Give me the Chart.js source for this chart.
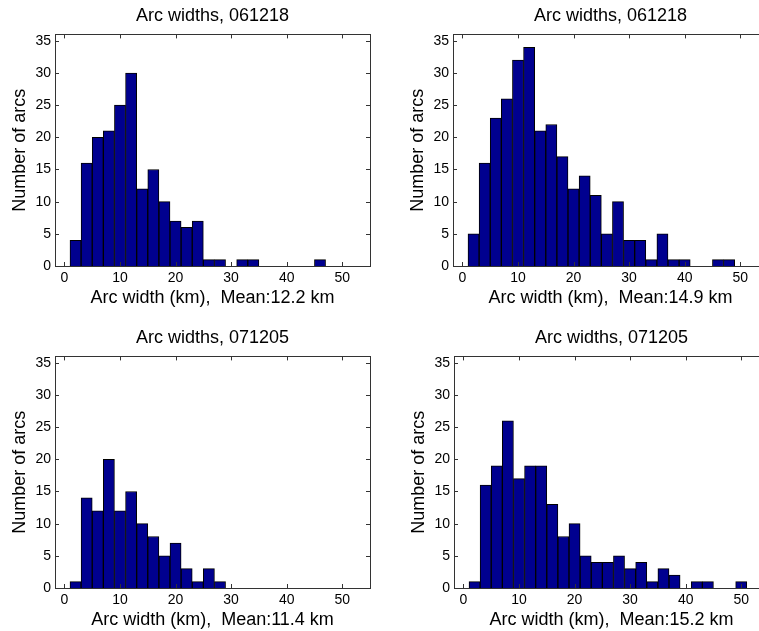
<!DOCTYPE html>
<html>
<head>
<meta charset="utf-8">
<script src="https://cdn.jsdelivr.net/npm/chart.js@4/dist/chart.umd.min.js"></script>
<style>
  html, body { margin: 0; padding: 0; background: #fff; overflow: hidden; }
  #wrap { position: relative; width: 759px; height: 631px; overflow: hidden; }
  canvas { position: absolute; }
</style>
</head>
<body>
<div id="wrap">
  <canvas id="hist1" width="400" height="315" style="left:0px;top:0px;width:400px;height:315px"></canvas>
  <canvas id="hist2" width="400" height="315" style="left:398px;top:0px;width:400px;height:315px"></canvas>
  <canvas id="hist3" width="400" height="315" style="left:0px;top:322px;width:400px;height:315px"></canvas>
  <canvas id="hist4" width="400" height="315" style="left:399px;top:322px;width:400px;height:315px"></canvas>
</div>
<script>
// bin centers (2 km bins)
const binCenters = [2, 4, 6, 8, 10, 12, 14, 16, 18, 20, 22, 24, 26, 28, 30, 32, 34, 36, 38, 40, 42, 44, 46, 48, 50];

// counts per bin, one array per panel
const counts1 = [4, 16, 20, 21, 25, 30, 12, 15, 10, 7, 6, 7, 1, 1, 0, 1, 1, 0, 0, 0, 0, 0, 1];
const counts2 = [5, 16, 23, 26, 32, 34, 21, 22, 17, 12, 14, 11, 5, 10, 4, 4, 1, 5, 1, 1, 0, 0, 1, 1];
const counts3 = [1, 14, 12, 20, 12, 15, 10, 8, 5, 7, 3, 1, 3, 1];
const counts4 = [1, 16, 19, 26, 17, 19, 19, 13, 8, 10, 5, 4, 4, 5, 3, 4, 1, 3, 2, 0, 1, 1, 0, 0, 1];

// titles and labels
const titles = ["Arc widths, 061218", "Arc widths, 061218", "Arc widths, 071205", "Arc widths, 071205"];
const xLabels = [
  "Arc width (km),  Mean:12.2 km",
  "Arc width (km),  Mean:14.9 km",
  "Arc width (km),  Mean:11.4 km",
  "Arc width (km),  Mean:15.2 km"
];
const yLabel = "Number of arcs";

// tick labels
const xTicks = [0, 10, 20, 30, 40, 50];
const yTicks = [0, 5, 10, 15, 20, 25, 30, 35];

const FONT = "'Liberation Sans', Arial, Helvetica, sans-serif";

// matlab style box with inward ticks, title centred over the axes
const boxTicks = {
  id: "boxTicks",
  afterDraw(chart, args, opts) {
    const { ctx, chartArea: a, scales: { x, y } } = chart;
    ctx.save();
    ctx.strokeStyle = "#333";
    ctx.lineWidth = 1;
    ctx.beginPath();
    x.ticks.forEach(t => {
      const px = Math.round(x.getPixelForValue(t.value)) + 0.5;
      ctx.moveTo(px, a.bottom); ctx.lineTo(px, a.bottom - 4);
      ctx.moveTo(px, a.top); ctx.lineTo(px, a.top + 4);
    });
    y.ticks.forEach(t => {
      const py = Math.round(y.getPixelForValue(t.value)) + 0.5;
      ctx.moveTo(a.left, py); ctx.lineTo(a.left + 4, py);
      ctx.moveTo(a.right, py); ctx.lineTo(a.right - 4, py);
    });
    ctx.stroke();
    ctx.strokeRect(Math.round(a.left) + 0.5, Math.round(a.top) + 0.5,
      Math.round(a.right - a.left), Math.round(a.bottom - a.top));

    // title
    ctx.fillStyle = "#000";
    ctx.font = "18px " + FONT;
    ctx.textAlign = "center";
    ctx.textBaseline = "middle";
    ctx.fillText(opts.text, (a.left + a.right) / 2, 16);
    ctx.restore();
  }
};

function drawHistogram(canvasId, counts, title, xLabel) {
  const ctx = document.getElementById(canvasId).getContext("2d");
  const points = counts.map((c, i) => ({ x: binCenters[i], y: c }));
  return new Chart(ctx, {
    type: "bar",
    data: {
      datasets: [{
        data: points,
        backgroundColor: "#00008F",
        borderColor: "#000000",
        borderWidth: 1,
        barPercentage: 1,
        categoryPercentage: 1
      }]
    },
    options: {
      responsive: false,
      animation: false,
      devicePixelRatio: 1,
      layout: { padding: { left: 0, right: 30, top: 34.4, bottom: 0 } },
      plugins: {
        legend: { display: false },
        tooltip: { enabled: false },
        title: { display: false },
        boxTicks: { text: title }
      },
      scales: {
        x: {
          type: "linear",
          offset: false,
          min: -1.7,
          max: 55,
          grid: { display: false, drawTicks: false },
          border: { display: false },
          afterBuildTicks: s => { s.ticks = xTicks.map(v => ({ value: v })); },
          afterFit: s => { s.height = 49; },
          ticks: { color: "#000", padding: 4, maxRotation: 0, font: { family: FONT, size: 14 } },
          title: {
            display: true,
            text: xLabel,
            color: "#000",
            font: { family: FONT, size: 18 },
            padding: { top: 0, bottom: 6.2 }
          }
        },
        y: {
          min: 0,
          max: 36,
          grid: { display: false, drawTicks: false },
          border: { display: false },
          afterBuildTicks: s => { s.ticks = yTicks.map(v => ({ value: v })); },
          afterFit: s => { s.width = 55; },
          ticks: { color: "#000", padding: 4, font: { family: FONT, size: 14 } },
          title: {
            display: true,
            text: yLabel,
            color: "#000",
            font: { family: FONT, size: 18 },
            padding: { top: 9.2, bottom: 0 }
          }
        }
      }
    },
    plugins: [boxTicks]
  });
}

document.addEventListener("DOMContentLoaded", function () {
  drawHistogram("hist1", counts1, titles[0], xLabels[0]);
  drawHistogram("hist2", counts2, titles[1], xLabels[1]);
  drawHistogram("hist3", counts3, titles[2], xLabels[2]);
  drawHistogram("hist4", counts4, titles[3], xLabels[3]);
});
</script>
</body>
</html>
